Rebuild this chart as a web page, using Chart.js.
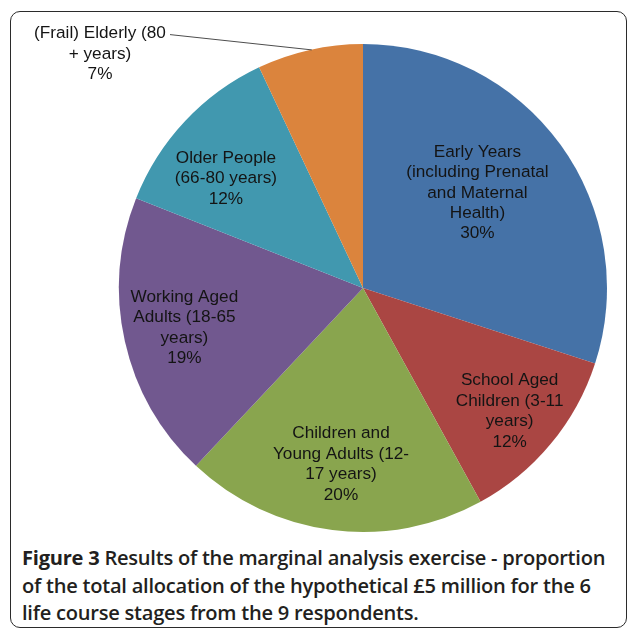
<!DOCTYPE html>
<html>
<head>
<meta charset="utf-8">
<script src="https://cdn.jsdelivr.net/npm/chart.js@4/dist/chart.umd.min.js"></script>
<style>
  html, body { margin: 0; padding: 0; background: #fff; }
  .page { position: relative; width: 629px; height: 630px; overflow: hidden; }
  .frame {
    position: absolute; left: 10px; top: 11px; width: 617px; height: 617px;
    border: 1.5px solid #2b2b2b; border-radius: 10px; box-sizing: border-box;
  }
  #pieChart { position: absolute; left: 0; top: 0; }
  .caption {
    position: absolute; left: 22px; top: 544px;
    font-family: "Open Sans", sans-serif; font-weight: 600; font-size: 20.1px;
    line-height: 27.5px; color: #231f20; white-space: nowrap; letter-spacing: -0.25px;
  }
  .caption b { font-weight: 700; }
</style>
</head>
<body>
<div class="page">
  <div class="frame"></div>
  <canvas id="pieChart" width="629" height="540"></canvas>
  <div class="caption">
    <b>Figure 3</b> Results of the marginal analysis exercise - proportion<br>
    of the total allocation of the hypothetical £5 million for the 6<br>
    life course stages from the 9 respondents.
  </div>
</div>
<script>
const categories = [
  ['Early Years', '(including Prenatal', 'and Maternal', 'Health)'],
  ['School Aged', 'Children (3-11', 'years)'],
  ['Children and', 'Young Adults (12-', '17 years)'],
  ['Working Aged', 'Adults (18-65', 'years)'],
  ['Older People', '(66-80 years)'],
  ['(Frail) Elderly (80', '+ years)']
];
const shares = [30, 12, 20, 19, 12, 7];
const sliceColors = ['#4572A7', '#AA4643', '#89A54E', '#71588F', '#4198AF', '#DB843D'];

// where each label sits: inside at a fraction of the radius (plus a nudge),
// or outside with a leader line
const labelPlacement = [
  { r: 0.6, dx: -4, dy: -9 },
  { r: 0.78, dx: 0, dy: 2 },
  { r: 0.72, dx: 0, dy: 2 },
  { r: 0.75, dx: 0, dy: 0 },
  { r: 0.72, dx: -9, dy: 11 },
  { outside: true, textX: 100, textY: 54, lineX: 170 }
];

const pieLabels = {
  id: 'pieLabels',
  afterDatasetsDraw(chart) {
    const ctx = chart.ctx;
    const meta = chart.getDatasetMeta(0);
    const lineH = 20.4;
    ctx.save();
    ctx.font = '17.2px "Liberation Sans", Arial, sans-serif';
    ctx.fillStyle = '#141414';
    ctx.textAlign = 'center';
    ctx.textBaseline = 'middle';
    meta.data.forEach(function(arc, i) {
      const lines = categories[i].concat([shares[i] + '%']);
      const mid = (arc.startAngle + arc.endAngle) / 2;
      const place = labelPlacement[i];
      let cx, cy;
      if (place.outside) {
        cx = place.textX;
        cy = place.textY;
        const ex = arc.x + Math.cos(mid) * arc.outerRadius;
        const ey = arc.y + Math.sin(mid) * arc.outerRadius;
        const firstY = cy - (lines.length - 1) * lineH / 2;
        ctx.beginPath();
        ctx.strokeStyle = '#4d4d4d';
        ctx.lineWidth = 1;
        ctx.moveTo(place.lineX, firstY + 1);
        ctx.lineTo(ex + 2, ey);
        ctx.stroke();
      } else {
        cx = arc.x + Math.cos(mid) * arc.outerRadius * place.r + place.dx;
        cy = arc.y + Math.sin(mid) * arc.outerRadius * place.r + place.dy;
      }
      lines.forEach(function(text, k) {
        ctx.fillText(text, cx, cy + (k - (lines.length - 1) / 2) * lineH);
      });
    });
    ctx.restore();
  }
};

const ctx = document.getElementById('pieChart').getContext('2d');
new Chart(ctx, {
  type: 'pie',
  data: {
    labels: categories.map(function(c) { return c.join(' '); }),
    datasets: [{
      data: shares,
      backgroundColor: sliceColors,
      borderWidth: 0
    }]
  },
  options: {
    responsive: false,
    animation: false,
    layout: { padding: { left: 119, right: 22, top: 44, bottom: 8 } },
    plugins: {
      legend: { display: false },
      tooltip: { enabled: false }
    }
  },
  plugins: [pieLabels]
});
</script>
</body>
</html>
